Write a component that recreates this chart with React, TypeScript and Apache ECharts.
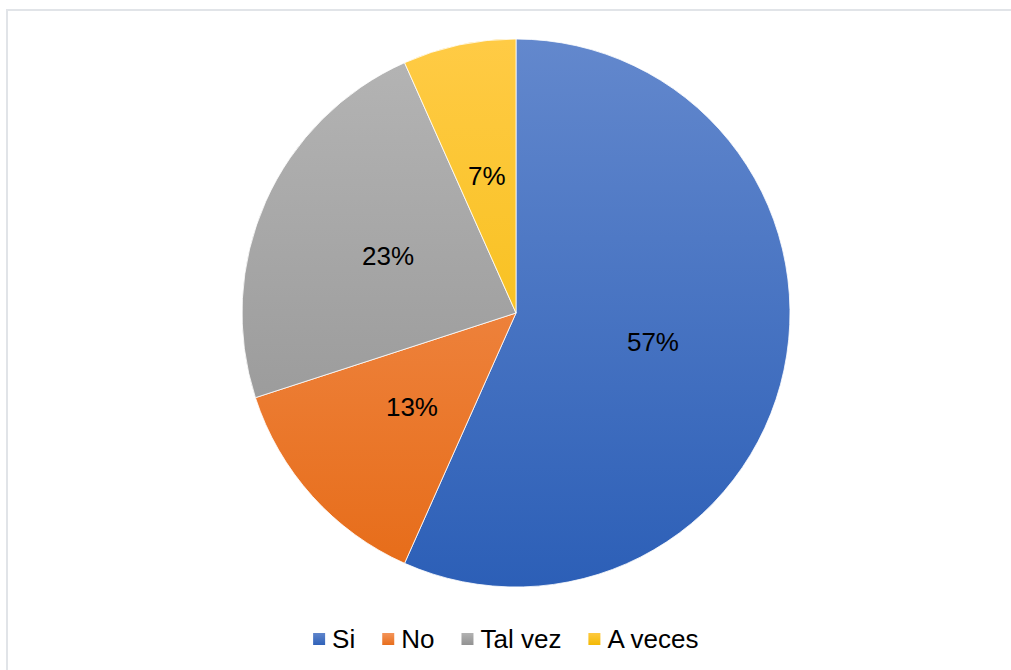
import React, { useEffect, useRef } from "react";
import * as echarts from "echarts";

const categories = ["Si", "No", "Tal vez", "A veces"];
// respondent counts per answer (labels show their rounded share)
const counts = [17, 4, 7, 2];
// top / bottom shades of each slice's vertical gradient
const topColors = ["#6388CD", "#F5975E", "#B5B5B5", "#FFCB45"];
const bottomColors = ["#2C5FB7", "#E66B17", "#8F8F8F", "#F2B800"];

const CX = 516;
const CY = 313;
const R = 274;

function globalGradient(i: number) {
  return new echarts.graphic.LinearGradient(
    0,
    CY - R,
    0,
    CY + R,
    [
      { offset: 0, color: topColors[i] },
      { offset: 1, color: bottomColors[i] },
    ],
    true
  );
}

function localGradient(i: number) {
  return new echarts.graphic.LinearGradient(0, 0, 0, 1, [
    { offset: 0, color: topColors[i] },
    { offset: 1, color: bottomColors[i] },
  ]);
}

const FONT = "Liberation Sans, Arial, sans-serif";

export default function App() {
  const ref = useRef<HTMLDivElement>(null);

  useEffect(() => {
    if (!ref.current) return;
    const chart = echarts.init(ref.current, undefined, { renderer: "svg" });
    chart.setOption({
      animation: false,
      backgroundColor: "#ffffff",
      graphic: [
        {
          type: "rect",
          shape: { x: 7, y: 10, width: 1100, height: 700 },
          style: { fill: "none", stroke: "#E1E4E8", lineWidth: 2 },
          silent: true,
        },
      ],
      legend: {
        top: 621,
        left: "center",
        itemWidth: 14,
        itemHeight: 14,
        itemGap: 25,
        icon: "rect",
        textStyle: {
          fontFamily: FONT,
          fontSize: 26,
          color: "#000000",
          padding: [0, 0, 0, 1],
        },
        data: categories.map((name, i) => ({
          name,
          itemStyle: { color: localGradient(i) },
        })),
      },
      series: [
        {
          type: "pie",
          center: [CX, CY],
          radius: [0, R],
          startAngle: 90,
          clockwise: true,
          avoidLabelOverlap: false,
          percentPrecision: 0,
          label: {
            show: true,
            position: "inside",
            formatter: (p: any) => `${p.percent}%`,
            fontFamily: FONT,
            fontSize: 26,
            color: "#000000",
            padding: [4, 0, 0, 0],
          },
          labelLine: { show: false },
          itemStyle: { borderColor: "#ffffff", borderWidth: 0.8 },
          emphasis: { disabled: true },
          data: categories.map((name, i) => ({
            name,
            value: counts[i],
            itemStyle: { color: globalGradient(i) },
          })),
        },
      ],
    });
    return () => chart.dispose();
  }, []);

  return (
    <div
      ref={ref}
      style={{ position: "fixed", left: 0, top: 0, width: 1011, height: 670 }}
    />
  );
}
